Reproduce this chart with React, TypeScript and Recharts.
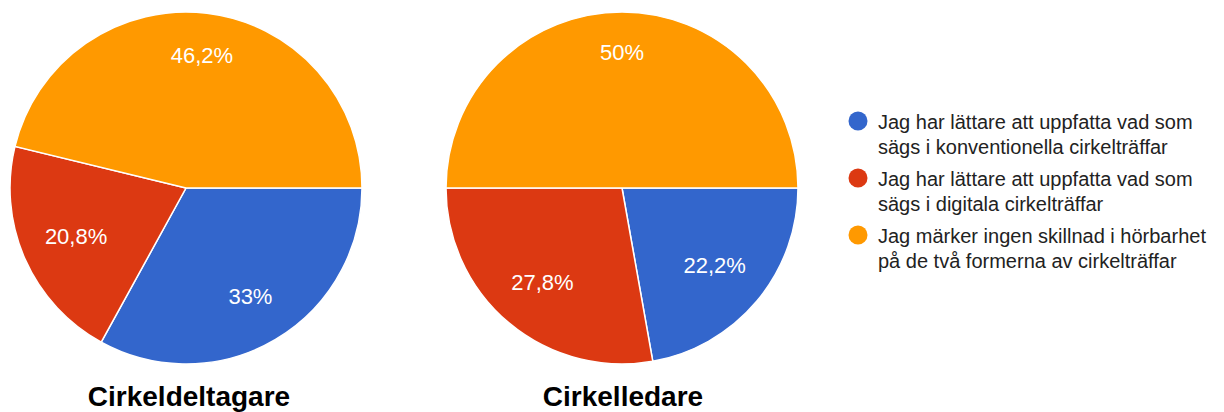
import { PieChart, Pie, Cell } from 'recharts';

const categories = [
  'Jag har lättare att uppfatta vad som sägs i konventionella cirkelträffar',
  'Jag har lättare att uppfatta vad som sägs i digitala cirkelträffar',
  'Jag märker ingen skillnad i hörbarhet på de två formerna av cirkelträffar',
];
const colors = ['#3366cc', '#dc3912', '#ff9900'];

const deltagareValues = [33, 20.8, 46.2];
const ledareValues = [22.2, 27.8, 50];
const titles = ['Cirkeldeltagare', 'Cirkelledare'];

const RAD = Math.PI / 180;
const font = '"Liberation Sans", Arial, sans-serif';

const fmt = (v: number) => `${String(v).replace('.', ',')}%`;

function renderLabel(props: any) {
  const { cx, cy, midAngle, outerRadius, percent, value } = props;
  const r = outerRadius * (0.62 + 0.3 * percent);
  const x = cx + r * Math.cos(-midAngle * RAD);
  const y = cy + r * Math.sin(-midAngle * RAD);
  return (
    <text
      x={x}
      y={y}
      fill="#fff"
      fontSize={22}
      fontFamily={font}
      textAnchor="middle"
      dominantBaseline="central"
    >
      {fmt(value)}
    </text>
  );
}

const toRows = (vals: number[]) =>
  categories.map((name, i) => ({ name, value: vals[i] }));

export default function App() {
  const pies = [
    { data: toRows(deltagareValues), cx: 186, title: titles[0], titleX: 189 },
    { data: toRows(ledareValues), cx: 622, title: titles[1], titleX: 623 },
  ];

  return (
    <div
      style={{
        position: 'fixed',
        top: 0,
        left: 0,
        width: 1224,
        height: 412,
        background: '#fff',
        fontFamily: font,
        overflow: 'hidden',
      }}
    >
      <PieChart width={1224} height={412} margin={{ top: 0, right: 0, bottom: 0, left: 0 }}>
        {pies.map((p, k) => (
          <Pie
            key={k}
            data={p.data}
            dataKey="value"
            nameKey="name"
            cx={p.cx}
            cy={188}
            outerRadius={176}
            startAngle={0}
            endAngle={-360}
            stroke="#fff"
            strokeWidth={1.5}
            label={renderLabel}
            labelLine={false}
            isAnimationActive={false}
          >
            {p.data.map((_, i) => (
              <Cell key={i} fill={colors[i]} />
            ))}
          </Pie>
        ))}
      </PieChart>

      {pies.map((p, k) => (
        <div
          key={k}
          style={{
            position: 'absolute',
            left: p.titleX - 150,
            top: 383,
            width: 300,
            textAlign: 'center',
            fontSize: 28,
            lineHeight: '28px',
            fontWeight: 'bold',
            color: '#000',
          }}
        >
          {p.title}
        </div>
      ))}

      <div style={{ position: 'absolute', left: 848, top: 110, width: 376 }}>
        {categories.map((c, i) => (
          <div key={i} style={{ display: 'flex', marginBottom: 7 }}>
            <svg width={30} height={25} style={{ flex: 'none' }}>
              <circle cx={10} cy={11} r={9.5} fill={colors[i]} />
            </svg>
            <div style={{ fontSize: 20, lineHeight: '25px', color: '#222', width: 346 }}>
              {c}
            </div>
          </div>
        ))}
      </div>
    </div>
  );
}
